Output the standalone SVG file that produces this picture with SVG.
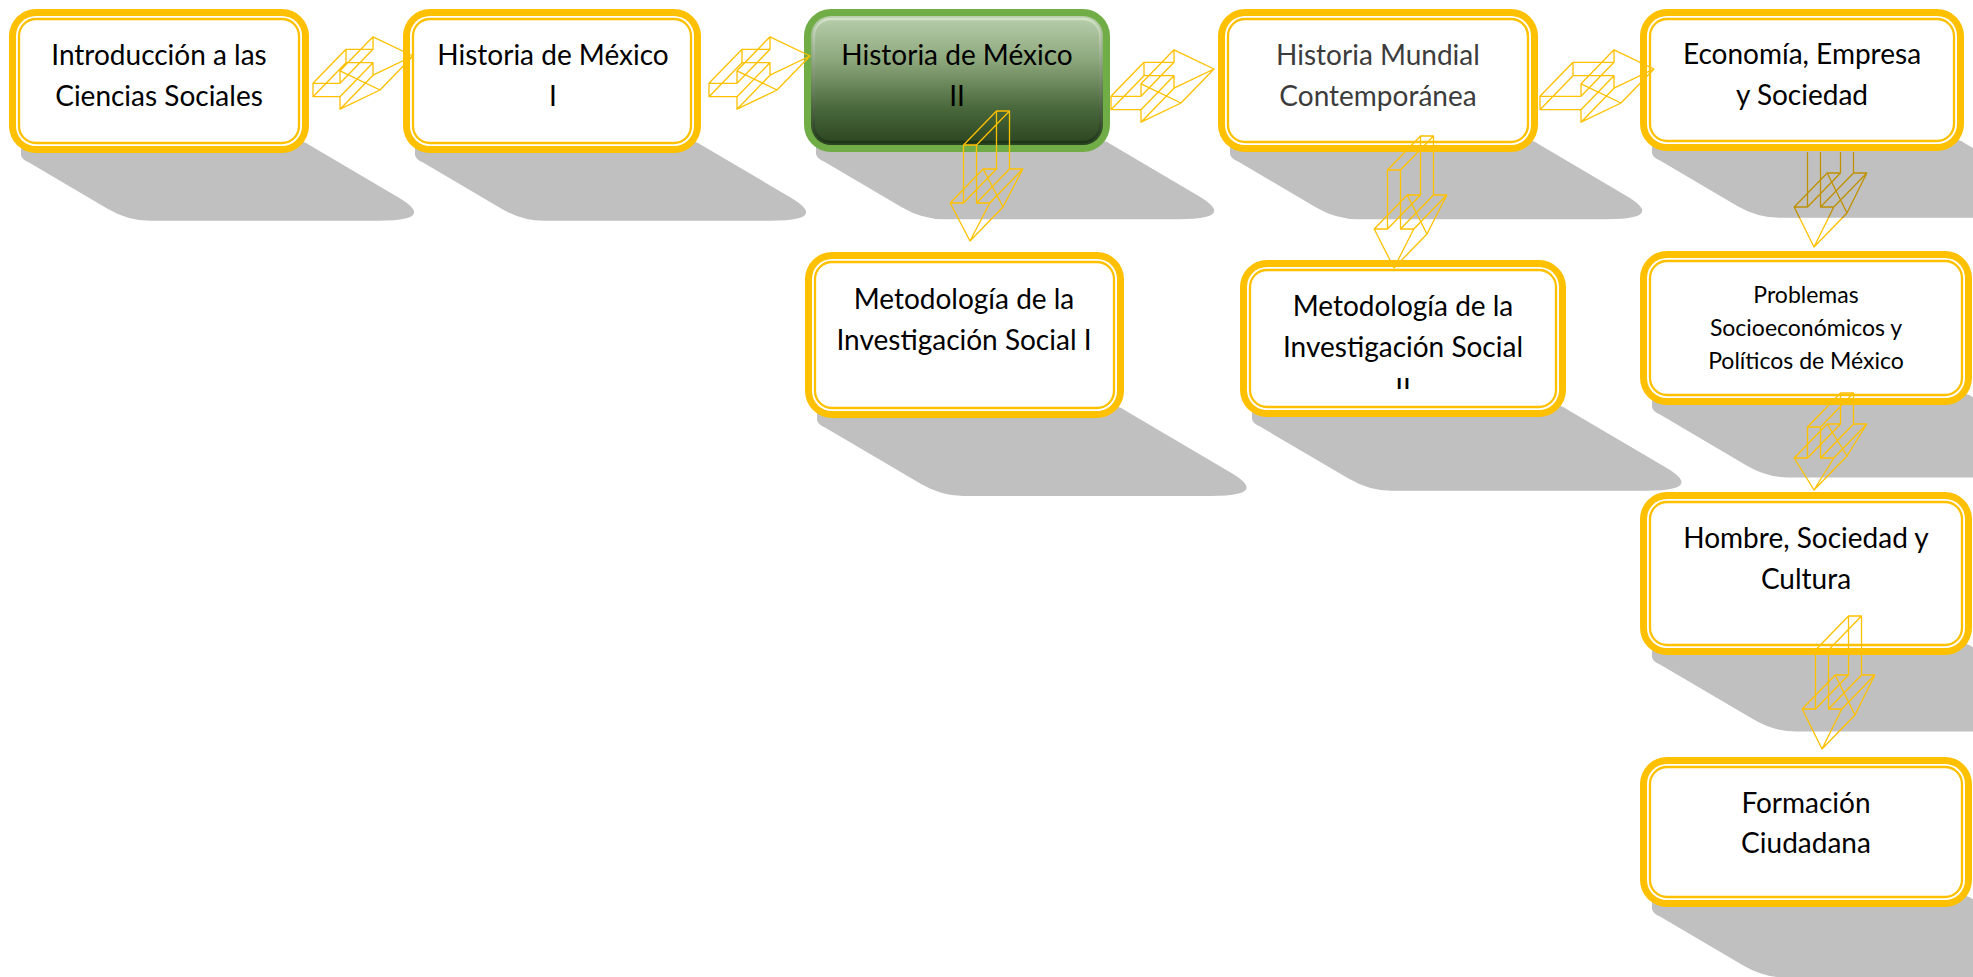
<svg xmlns="http://www.w3.org/2000/svg" width="1973" height="977" viewBox="0 0 1973 977">
<defs>
<style>
.sh{fill:#C0C0C0}
.ob{fill:#FFC000}
.iw{fill:#FFFFFF}
.il{fill:none;stroke:#FFC000;stroke-width:2.3}
.gb{fill:#70AD47}
.gf{fill:url(#gfill)}
.gl{fill:none;stroke:url(#gline);stroke-width:2.3}
.t{font-family:Lato,"Open Sans","Liberation Sans",sans-serif;font-size:28px;fill:#000;text-anchor:middle}
.ts{font-size:23px}
.grey{fill:#3C3C3C}
.arr{fill:none;stroke:#FFC000;stroke-width:1.3;stroke-linejoin:round}
</style>
<linearGradient id="gfill" x1="0" y1="0" x2="0" y2="1">
<stop offset="0" stop-color="#B9CFAE"/>
<stop offset="0.35" stop-color="#8BA67A"/>
<stop offset="0.7" stop-color="#4B6A3D"/>
<stop offset="1" stop-color="#2A4420"/>
</linearGradient>
<linearGradient id="gline" x1="0" y1="0" x2="0" y2="1">
<stop offset="0" stop-color="#D2E2C6"/>
<stop offset="1" stop-color="#1F3517"/>
</linearGradient>
<linearGradient id="v3g" gradientUnits="userSpaceOnUse" x1="0" y1="150" x2="0" y2="250">
<stop offset="0.68" stop-color="#BF9000"/>
<stop offset="0.68" stop-color="#FFC000"/>
</linearGradient>
<clipPath id="clipV3"><rect x="0" y="152" width="1973" height="825"/></clipPath>
<clipPath id="clipT7"><rect x="0" y="0" width="1973" height="389"/></clipPath>
</defs>
<rect x="0" y="0" width="1973" height="977" fill="#FFFFFF"/>

<g id="node1">
<path class="sh" d="M21,138 L21,155 Q22,160 29,162.5 L107.5,208.7 Q127.9,220.7 149.9,220.7 L378.1,220.7 Q438.1,220.7 398.1,197.2 L309.4,145 Q305,141 294,141 Z"/>
<rect class="ob" x="9" y="9" width="300" height="144" rx="27"/>
<rect class="iw" x="16" y="16" width="286" height="130" rx="20"/>
<rect class="il" x="19" y="19" width="280" height="124" rx="17"/>
<text class="t" x="159" y="65">Introducción a las</text>
<text class="t" x="159" y="106">Ciencias Sociales</text>
</g>

<g id="node2">
<path class="sh" d="M415,138 L415,155 Q416,160 423,162.5 L501.5,208.7 Q521.9,220.7 543.9,220.7 L770.1,220.7 Q830.1,220.7 790.1,197.2 L701.4,145 Q697,141 686,141 Z"/>
<rect class="ob" x="403" y="9" width="298" height="144" rx="27"/>
<rect class="iw" x="410" y="16" width="284" height="130" rx="20"/>
<rect class="il" x="413" y="19" width="278" height="124" rx="17"/>
<text class="t" x="553" y="65">Historia de México</text>
<text class="t" x="553" y="106">I</text>
</g>

<g id="node3">
<path class="sh" d="M816,137 L816,154 Q817,159 824,161.5 L901.7,207.2 Q922.1,219.2 944.1,219.2 L1178.2,219.2 Q1238.2,219.2 1198.2,195.7 L1110.4,144 Q1106,140 1095,140 Z"/>
<rect class="gb" x="804" y="9" width="306" height="143" rx="27"/>
<rect class="gf" x="811" y="16" width="292" height="129" rx="20"/>
<rect class="gl" x="814" y="19" width="286" height="123" rx="17"/>
<text class="t" x="957" y="65">Historia de México</text>
<text class="t" x="957" y="106">II</text>
</g>

<g id="node4">
<path class="sh" d="M1230,137 L1230,154 Q1231,159 1238,161.5 L1315.7,207.2 Q1336.1,219.2 1358.1,219.2 L1606.2,219.2 Q1666.2,219.2 1626.2,195.7 L1538.4,144 Q1534,140 1523,140 Z"/>
<rect class="ob" x="1218" y="9" width="320" height="143" rx="27"/>
<rect class="iw" x="1225" y="16" width="306" height="129" rx="20"/>
<rect class="il" x="1228" y="19" width="300" height="123" rx="17"/>
<text class="t grey" x="1378" y="65">Historia Mundial</text>
<text class="t grey" x="1378" y="106">Contemporánea</text>
</g>

<g id="node5">
<path class="sh" d="M1652,136 L1652,153 Q1653,158 1660,160.5 L1736.8,205.7 Q1757.2,217.7 1779.2,217.7 L2031.4,217.7 Q2091.4,217.7 2051.4,194.2 L1964.4,143 Q1960,139 1949,139 Z"/>
<rect class="ob" x="1640" y="9" width="324" height="142" rx="27"/>
<rect class="iw" x="1647" y="16" width="310" height="128" rx="20"/>
<rect class="il" x="1650" y="19" width="304" height="122" rx="17"/>
<text class="t" x="1802" y="64">Economía, Empresa</text>
<text class="t" x="1802" y="105">y Sociedad</text>
</g>

<g id="node6">
<path class="sh" d="M817,403 L817,420 Q818,425 825,427.5 L921.1,484 Q941.5,496 963.5,496 L1210.6,496 Q1270.6,496 1230.6,472.5 L1124.4,410 Q1120,406 1109,406 Z"/>
<rect class="ob" x="805" y="252" width="319" height="166" rx="27"/>
<rect class="iw" x="812" y="259" width="305" height="152" rx="20"/>
<rect class="il" x="815" y="262" width="299" height="146" rx="17"/>
<text class="t" x="964" y="309">Metodología de la</text>
<text class="t" x="964" y="350">Investigación Social I</text>
</g>

<g id="node7">
<path class="sh" d="M1252,402 L1252,419 Q1253,424 1260,426.5 L1348.9,478.8 Q1369.3,490.8 1391.3,490.8 L1645.5,490.8 Q1705.5,490.8 1665.5,467.3 L1566.4,409 Q1562,405 1551,405 Z"/>
<rect class="ob" x="1240" y="260" width="326" height="157" rx="27"/>
<rect class="iw" x="1247" y="267" width="312" height="143" rx="20"/>
<rect class="il" x="1250" y="270" width="306" height="137" rx="17"/>
<text class="t" x="1403" y="316">Metodología de la</text>
<text class="t" x="1403" y="357">Investigación Social</text>
<text class="t" x="1403" y="399" clip-path="url(#clipT7)">II</text>
</g>

<g id="node8">
<path class="sh" d="M1652,390 L1652,407 Q1653,412 1660,414.5 L1746.5,465.4 Q1766.9,477.4 1788.9,477.4 L2049,477.4 Q2109,477.4 2069,453.9 L1972.4,397 Q1968,393 1957,393 Z"/>
<rect class="ob" x="1640" y="251" width="332" height="154" rx="27"/>
<rect class="iw" x="1647" y="258" width="318" height="140" rx="20"/>
<rect class="il" x="1650" y="261" width="312" height="134" rx="17"/>
<text class="t ts" x="1806" y="303">Problemas</text>
<text class="t ts" x="1806" y="336">Socioeconómicos y</text>
<text class="t ts" x="1806" y="369">Políticos de México</text>
</g>

<g id="node9">
<path class="sh" d="M1652,640 L1652,657 Q1653,662 1660,664.5 L1753.7,719.6 Q1774.1,731.6 1796.1,731.6 L2056.2,731.6 Q2116.2,731.6 2076.2,708.1 L1972.4,647 Q1968,643 1957,643 Z"/>
<rect class="ob" x="1640" y="492" width="332" height="163" rx="27"/>
<rect class="iw" x="1647" y="499" width="318" height="149" rx="20"/>
<rect class="il" x="1650" y="502" width="312" height="143" rx="17"/>
<text class="t" x="1806" y="548">Hombre, Sociedad y</text>
<text class="t" x="1806" y="589">Cultura</text>
</g>

<g id="node10">
<path class="sh" d="M1652,892 L1652,909 Q1653,914 1660,916.5 L1743.3,965.5 Q1763.7,977.5 1785.7,977.5 L2045.9,977.5 Q2105.9,977.5 2065.9,954 L1972.4,899 Q1968,895 1957,895 Z"/>
<rect class="ob" x="1640" y="757" width="332" height="150" rx="27"/>
<rect class="iw" x="1647" y="764" width="318" height="136" rx="20"/>
<rect class="il" x="1650" y="767" width="312" height="130" rx="17"/>
<text class="t" x="1806" y="813">Formación</text>
<text class="t" x="1806" y="853">Ciudadana</text>
</g>

<g id="connectors">
<path id="h1" class="arr" d="M313,83.3 L340,83.3 L340,70.8 L380,90 L340,109.2 L340,96.7 L313,96.7 Z M346,49.3 L373,49.3 L373,36.8 L413,56 L373,75.2 L373,62.7 L346,62.7 Z M313,83.3 L346,49.3 M340,83.3 L373,49.3 M340,70.8 L373,36.8 M380,90 L413,56 M340,109.2 L373,75.2 M340,96.7 L373,62.7 M313,96.7 L346,62.7"/>
<path id="h2" class="arr" d="M709,83.3 L737,83.3 L737,70.8 L777,90 L737,109.2 L737,96.7 L709,96.7 Z M742,49.3 L770,49.3 L770,36.8 L810,56 L770,75.2 L770,62.7 L742,62.7 Z M709,83.3 L742,49.3 M737,83.3 L770,49.3 M737,70.8 L770,36.8 M777,90 L810,56 M737,109.2 L770,75.2 M737,96.7 L770,62.7 M709,96.7 L742,62.7"/>
<path id="h3" class="arr" d="M1111,96.3 L1141,96.3 L1141,83.8 L1181,103 L1141,122.2 L1141,109.7 L1111,109.7 Z M1144,62.3 L1174,62.3 L1174,49.8 L1214,69 L1174,88.2 L1174,75.7 L1144,75.7 Z M1111,96.3 L1144,62.3 M1141,96.3 L1174,62.3 M1141,83.8 L1174,49.8 M1181,103 L1214,69 M1141,122.2 L1174,88.2 M1141,109.7 L1174,75.7 M1111,109.7 L1144,75.7"/>
<path id="h4" class="arr" d="M1540,96.3 L1581,96.3 L1581,83.8 L1621,103 L1581,122.2 L1581,109.7 L1540,109.7 Z M1573,62.3 L1614,62.3 L1614,49.8 L1654,69 L1614,88.2 L1614,75.7 L1573,75.7 Z M1540,96.3 L1573,62.3 M1581,96.3 L1614,62.3 M1581,83.8 L1614,49.8 M1621,103 L1654,69 M1581,122.2 L1614,88.2 M1581,109.7 L1614,75.7 M1540,109.7 L1573,75.7"/>
<path id="v1" class="arr" d="M963.5,145 L976.5,145 L976.5,203 L989.8,203 L970,241 L950.2,203 L963.5,203 Z M996.5,111 L1009.5,111 L1009.5,169 L1022.8,169 L1003,207 L983.2,169 L996.5,169 Z M963.5,145 L996.5,111 M976.5,145 L1009.5,111 M976.5,203 L1009.5,169 M989.8,203 L1022.8,169 M970,241 L1003,207 M950.2,203 L983.2,169 M963.5,203 L996.5,169"/>
<path id="v2" class="arr" d="M1387.5,170 L1400.5,170 L1400.5,229 L1413.8,229 L1394,268 L1374.2,229 L1387.5,229 Z M1420.5,136 L1433.5,136 L1433.5,195 L1446.8,195 L1427,234 L1407.2,195 L1420.5,195 Z M1387.5,170 L1420.5,136 M1400.5,170 L1433.5,136 M1400.5,229 L1433.5,195 M1413.8,229 L1446.8,195 M1394,268 L1427,234 M1374.2,229 L1407.2,195 M1387.5,229 L1420.5,195"/>
<path id="v3" class="arr" clip-path="url(#clipV3)" style="stroke:url(#v3g)" d="M1807.5,150 L1820.5,150 L1820.5,207 L1833.8,207 L1814,247 L1794.2,207 L1807.5,207 Z M1840.5,116 L1853.5,116 L1853.5,173 L1866.8,173 L1847,213 L1827.2,173 L1840.5,173 Z M1807.5,150 L1840.5,116 M1820.5,150 L1853.5,116 M1820.5,207 L1853.5,173 M1833.8,207 L1866.8,173 M1814,247 L1847,213 M1794.2,207 L1827.2,173 M1807.5,207 L1840.5,173"/>
<path id="v4" class="arr" d="M1807.5,427 L1820.5,427 L1820.5,458 L1833.8,458 L1814,490 L1794.2,458 L1807.5,458 Z M1840.5,393 L1853.5,393 L1853.5,424 L1866.8,424 L1847,456 L1827.2,424 L1840.5,424 Z M1807.5,427 L1840.5,393 M1820.5,427 L1853.5,393 M1820.5,458 L1853.5,424 M1833.8,458 L1866.8,424 M1814,490 L1847,456 M1794.2,458 L1827.2,424 M1807.5,458 L1840.5,424"/>
<path id="v5" class="arr" d="M1815.5,650 L1828.5,650 L1828.5,709 L1841.8,709 L1822,749 L1802.2,709 L1815.5,709 Z M1848.5,616 L1861.5,616 L1861.5,675 L1874.8,675 L1855,715 L1835.2,675 L1848.5,675 Z M1815.5,650 L1848.5,616 M1828.5,650 L1861.5,616 M1828.5,709 L1861.5,675 M1841.8,709 L1874.8,675 M1822,749 L1855,715 M1802.2,709 L1835.2,675 M1815.5,709 L1848.5,675"/>
</g>
</svg>
